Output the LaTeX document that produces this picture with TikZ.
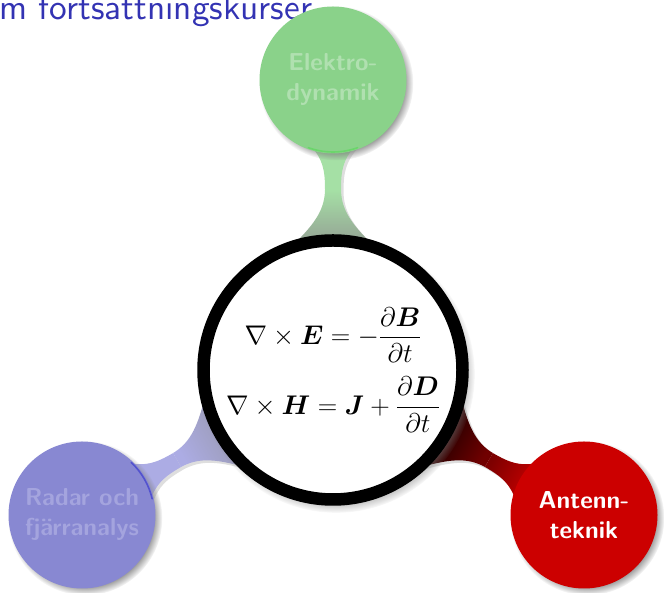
\RequirePackage{fix-cm}
\documentclass[tikz,border=0pt]{standalone}
\usepackage{fontspec}
\usepackage{amsmath}
\usetikzlibrary{shadows,backgrounds,fadings}
\newfontfamily\lmsten{lmsans10-regular}[Extension=.otf, BoldFont=lmsans10-bold]

\definecolor{titleblue}{RGB}{51,51,179}
\definecolor{gfill}{RGB}{138,210,138}
\definecolor{gtext}{RGB}{176,224,176}
\definecolor{glight}{RGB}{165,224,165}
\definecolor{groot}{RGB}{148,160,148}
\definecolor{garc}{RGB}{95,215,95}
\definecolor{bfill}{RGB}{136,136,210}
\definecolor{btext}{RGB}{164,164,222}
\definecolor{blight}{RGB}{172,172,228}
\definecolor{broot}{RGB}{150,150,168}
\definecolor{barc}{RGB}{60,60,205}
\definecolor{rfill}{RGB}{204,0,0}
\definecolor{rmid}{RGB}{112,0,0}
\definecolor{rmidb}{RGB}{125,0,0}

\begin{document}
\begin{tikzpicture}[x=1pt,y=1pt,
  childc/.style={circle, minimum size=147pt, inner sep=0pt, align=center,
     font=\lmsten\bfseries\fontsize{24.5}{30}\selectfont,
     circular drop shadow={shadow xshift=3pt, shadow yshift=-3pt, shadow scale=1.05}},
  rootc/.style={circle, minimum size=259pt, inner sep=0pt, draw=black, line width=12.5pt,
     fill=white, align=center, font=\fontsize{27}{30}\selectfont,
     circular drop shadow={shadow xshift=3pt, shadow yshift=-4pt, shadow scale=1.07}},
  halfa/.style={insert path={(125,40) .. controls (148,16) and (162,8.5) .. (180,8)
     -- (180,-8) .. controls (162,-8.5) and (148,-16) .. (125,-40) -- cycle}},
  halfb/.style={insert path={(180,8) .. controls (200,8) and (210,10) .. (224,22)
     -- (224,-22) .. controls (210,-10) and (200,-8) .. (180,-8) -- cycle}},
  fullbar/.style={insert path={(125,40) .. controls (148,16) and (162,8.5) .. (180,8)
     .. controls (200,8) and (210,10) .. (224,22) -- (224,-22)
     .. controls (210,-10) and (200,-8) .. (180,-8)
     .. controls (162,-8.5) and (148,-16) .. (125,-40) -- cycle}},
  barshadow/.style={fill=black, opacity=0.13},
  hilite/.style={line width=1.6pt, line cap=round, draw opacity=0.7}]
\useasboundingbox (0,0) rectangle (664,593);

\node[titleblue, font=\lmsten\fontsize{35.3}{40}\selectfont, anchor=base west, inner sep=0pt]
  (title) at (-1,573) {m fortsättningskurser};

\node[rootc] (root) at (333,223) {%
  $\displaystyle\nabla\times\boldsymbol{E}=-\frac{\partial\boldsymbol{B}}{\partial t}$\\[13pt]
  $\displaystyle\nabla\times\boldsymbol{H}=\boldsymbol{J}+\frac{\partial\boldsymbol{D}}{\partial t}$};
\node[childc, fill=gfill, text=gtext] (el) at (333,513) {Elektro-\\dynamik};
\node[childc, fill=bfill, text=btext] (ra) at (82,78) {Radar och\\fjärranalys};
\node[childc, fill=rfill, text=white] (an) at (584,78) {Antenn-\\teknik};

\draw[hilite, garc] ([shift={(-110:72)}]el.center) arc[start angle=-110, end angle=-70, radius=72];
\draw[hilite, barc] ([shift={(13:72)}]ra.center) arc[start angle=13, end angle=47, radius=72];

\begin{pgfonlayer}{background}
  % shadows of the bars
  \begin{scope}[shift={(root.center)}, shift={(2.5,-2.5)}, rotate=90]
    \path[barshadow, fullbar];
  \end{scope}
  \begin{scope}[shift={(root.center)}, shift={(2.5,-2.5)}, rotate=210]
    \path[barshadow, fullbar];
  \end{scope}
  \begin{scope}[shift={(root.center)}, shift={(2.5,-2.5)}, rotate=-30]
    \path[barshadow, fullbar];
  \end{scope}
  % root -> Elektrodynamik
  \begin{scope}[shift={(root.center)}, rotate=90]
    \shade[top color=groot, bottom color=glight, shading angle=180, halfa];
    \fill[glight, halfb];
  \end{scope}
  % root -> Radar
  \begin{scope}[shift={(root.center)}, rotate=210]
    \shade[top color=broot, bottom color=blight, shading angle=300, halfa];
    \fill[blight, halfb];
  \end{scope}
  % root -> Antenn
  \begin{scope}[shift={(root.center)}, rotate=-30]
    \shade[top color=black, bottom color=rmid, shading angle=60, halfa];
    \shade[top color=rmidb, bottom color=rfill, shading angle=60, halfb];
  \end{scope}
\end{pgfonlayer}
\end{tikzpicture}
\end{document}
